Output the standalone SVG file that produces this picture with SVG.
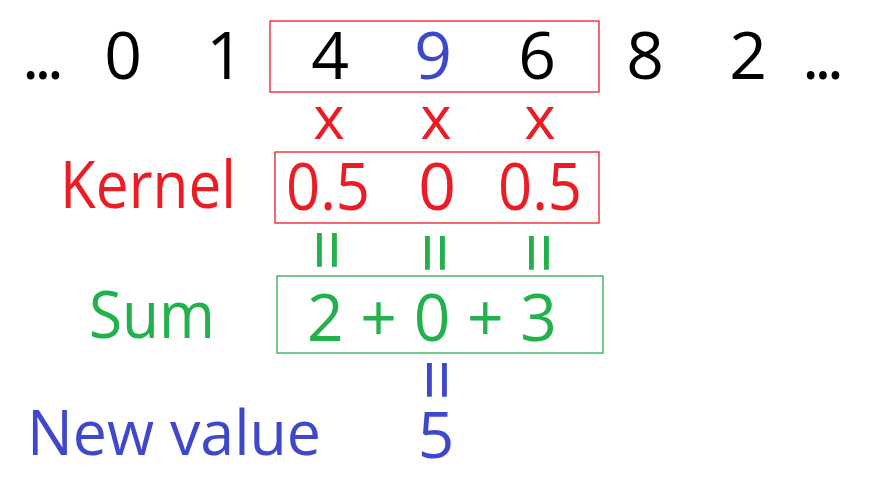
<svg xmlns="http://www.w3.org/2000/svg" width="872" height="480" viewBox="0 0 872 480">
<style>
text{font-family:"Open Sans","Noto Sans",sans-serif;text-anchor:middle}
.big{font-size:66px}
.blk{fill:#000}
.red{fill:#ED1C24}
.grn{fill:#22B14C}
.blu{fill:#3F48CC}
.box{fill:none;stroke-width:1.3}
.eq{font-size:74px}
.x{font-size:60px}
</style>
<rect width="872" height="480" fill="#fff"/>
<g id="sequence" class="big blk">
<text x="43" y="79" textLength="42" lengthAdjust="spacing">...</text>
<text x="123" y="79">0</text>
<text x="225" y="79">1</text>
<text x="330" y="79">4</text>
<text x="433" y="79" class="blu">9</text>
<text x="537" y="79">6</text>
<text x="645" y="79">8</text>
<text x="748" y="79">2</text>
<text x="823" y="79" textLength="42" lengthAdjust="spacing">...</text>
<rect class="box" x="270" y="21" width="329" height="71" stroke="#ED1C24"/>
</g>
<g id="times" class="red">
<text class="x" x="329" y="139">x</text>
<text class="x" x="436" y="139">x</text>
<text class="x" x="540" y="139">x</text>
</g>
<g id="kernel" class="big red">
<text x="148" y="208" textLength="176" lengthAdjust="spacingAndGlyphs">Kernel</text>
<rect class="box" x="275" y="152" width="324" height="71" stroke="#ED1C24"/>
<text x="328" y="210" textLength="84" lengthAdjust="spacingAndGlyphs">0.5</text>
<text x="437" y="210">0</text>
<text x="540" y="210" textLength="84" lengthAdjust="spacingAndGlyphs">0.5</text>
</g>
<g id="equals" class="grn">
<text class="eq" transform="translate(327,250) rotate(90)" y="26">=</text>
<text class="eq" transform="translate(435,253) rotate(90)" y="26">=</text>
<text class="eq" transform="translate(539,253) rotate(90)" y="26">=</text>
</g>
<g id="sum" class="big grn">
<text x="152" y="338" textLength="126" lengthAdjust="spacingAndGlyphs">Sum</text>
<rect class="box" x="277" y="276" width="326" height="77" stroke="#22B14C"/>
<text x="432" y="341" textLength="250" lengthAdjust="spacingAndGlyphs">2 + 0 + 3</text>
</g>
<g id="result" class="blu">
<text class="eq" transform="translate(437,380) rotate(90)" y="26">=</text>
<text x="174" y="455" style="font-size:63px" textLength="294" lengthAdjust="spacingAndGlyphs">New value</text>
<text x="436" y="458" style="font-size:64px">5</text>
</g>
</svg>
